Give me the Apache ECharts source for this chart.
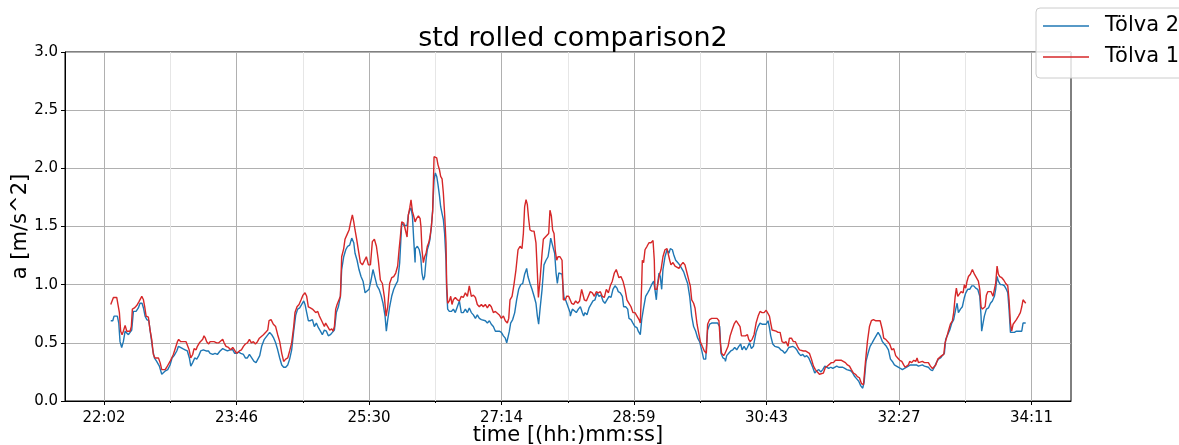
<!DOCTYPE html>
<html>
<head>
<meta charset="utf-8">
<script src="https://cdn.jsdelivr.net/npm/echarts@6/dist/echarts.min.js"></script>
<style>
html,body{margin:0;padding:0;background:#fff;}
#chart{width:1179px;height:445px;}
</style>
</head>
<body>
<div id="chart"></div>
<script>
// ---- data (time in seconds, value in m/s^2) ----
const tickValues = [1322, 1426.14, 1530.28, 1634.42, 1738.56, 1842.70, 1946.84, 2050.98];
const tickLabels = ['22:02','23:46','25:30','27:14','28:59','30:43','32:27','34:11'];
const minorTickValues = [1374.07, 1478.21, 1582.35, 1686.49, 1790.63, 1894.77, 1998.91];
const xRange = [1291.35, 2082.0];
const yTicks = [0, 0.5, 1.0, 1.5, 2.0, 2.5, 3.0];
const seriesNames = ['Tölva 2', 'Tölva 1'];

// Tölva 1 (red)
const timesT1 = [
1327.3,1329.4,1330.7,1332.0,1333.3,1334.1,1335.1,1336.2,1337.2,1338.6,
1339.9,1341.2,1342.5,1343.5,1344.3,1345.9,1347.7,1349.3,1350.3,1351.7,
1353.0,1354.0,1355.1,1356.9,1358.2,1359.5,1360.8,1362.1,1363.4,1364.8,
1366.1,1367.4,1368.7,1370.0,1371.3,1372.6,1373.9,1375.2,1376.5,1377.9,
1379.7,1380.7,1382.3,1384.4,1386.5,1387.5,1388.9,1390.2,1391.7,1392.8,
1394.4,1395.4,1397.0,1398.0,1399.6,1400.6,1401.7,1402.7,1404.3,1405.4,
1406.9,1408.5,1410.6,1412.2,1413.7,1415.3,1416.4,1417.9,1419.8,1421.6,
1423.2,1425.0,1426.3,1428.4,1430.0,1431.6,1433.1,1434.7,1436.3,1437.8,
1439.4,1441.0,1442.6,1444.1,
1445.4,1447.3,1449.1,1450.7,1451.7,1453.3,1455.1,1456.9,1458.5,1460.1,
1461.7,1463.2,1464.8,1466.4,1467.9,1469.5,1471.1,1472.1,1473.7,1475.3,
1476.9,1478.4,1480.0,1481.3,1482.6,1484.2,1485.8,1487.3,1488.4,1490.0,
1491.3,1492.6,1493.9,1495.2,1496.2,1497.8,1499.4,1501.0,1502.0,1503.1,
1504.1,1505.2,1506.7,1507.8,1508.8,1510.4,1511.4,1513.0,1514.6,1515.9,
1517.2,1518.3,1519.3,1520.6,1521.9,1523.5,1525.1,1526.6,1528.2,1529.8,
1531.4,1532.9,1534.5,1536.1,1537.6,1539.2,1540.8,1542.4,1543.7,1545.0,
1546.5,1548.1,1549.7,1551.3,1552.8,1553.9,1554.9,1556.0,1557.6,1559.1,
1560.2,1561.2,1562.3,1563.3,1564.4,1565.4,1566.5,
1567.7,1569.1,1570.4,1571.1,1571.9,1573.0,1574.0,1575.1,1576.1,1577.2,
1578.2,1579.3,1580.3,1581.4,1582.4,1583.5,1584.5,1585.6,1586.6,1587.7,
1588.7,1589.7,1590.8,1591.3,1592.1,1593.4,1594.5,1595.5,1596.6,1598.1,
1599.7,1601.3,1602.8,1604.4,1606.0,1607.6,1609.1,1610.7,1612.3,1613.9,
1615.4,1617.0,1618.6,1620.1,1621.7,1623.3,1624.9,1626.4,1628.0,1629.6,
1631.1,1632.7,1634.3,1635.9,1637.4,1639.0,1640.1,1641.1,1642.7,1644.2,
1645.8,1647.4,1649.0,1650.5,1651.6,1652.6,1653.7,1654.7,1655.8,1656.8,
1658.4,1660.0,1661.5,1662.6,1663.4,1664.7,1666.3,1667.3,1668.9,1670.4,
1671.5,1672.5,1673.6,1674.6,1675.7,1676.7,1677.8,1678.8,1680.4,1682.0,
1683.0,1684.6,1685.6,1687.2,1688.3,
1689.5,1691.1,1692.7,1694.3,1695.8,1697.4,1698.4,1699.5,1701.1,1702.6,
1704.2,1705.8,1707.4,1708.9,1710.5,1712.1,1713.6,1715.2,1716.8,1718.4,
1719.9,1721.5,1723.1,1724.6,1725.7,1726.7,1728.3,1729.9,1731.5,1733.0,
1734.6,1736.2,1737.7,1739.3,1740.9,1742.5,1743.5,1744.6,1745.1,1746.1,
1747.2,1748.8,1750.3,1751.9,1753.5,1754.5,1755.0,1756.6,1758.2,1759.8,
1761.3,1762.9,1764.5,1765.5,1766.6,1767.6,1769.2,1770.8,1772.3,1773.9,
1775.5,1777.1,1778.6,1780.2,1781.8,1782.8,1783.9,1785.4,1786.5,1788.1,
1789.1,1790.7,1792.2,1793.8,1795.4,1796.4,1798.0,1799.6,1801.7,1803.8,
1805.3,1806.4,1807.4,1809.0,1810.1,
1810.9,1812.5,1814.1,1815.6,1817.2,1818.8,1820.3,1821.9,1823.0,1824.5,
1826.1,1827.7,1828.7,1829.8,1831.4,1832.9,1834.5,1836.1,1837.6,1839.2,
1840.8,1842.4,1843.9,1845.0,1846.0,1847.1,1848.6,1850.2,1851.8,1853.4,
1854.9,1856.5,1858.1,1859.6,1860.7,1862.3,1863.8,1865.4,1867.0,1868.6,
1870.1,1871.7,1873.3,1874.8,1876.4,1878.0,1879.6,1881.1,1882.7,1884.3,
1885.8,1887.4,1889.0,1890.6,1892.1,1893.7,1895.3,1896.9,1898.4,1900.0,
1901.6,1903.1,1904.7,1906.3,1907.9,1909.4,1911.0,1912.6,1914.1,1915.7,
1917.3,1918.9,1920.4,1922.0,1923.6,1925.1,1926.7,1928.3,1929.9,1932.0,
1932.7,1933.8,1934.8,1936.4,1938.0,1939.5,1941.1,1942.7,1944.2,1945.8,
1947.4,1949.0,1950.5,1951.6,1952.6,1954.2,1955.2,1956.8,1958.4,1960.0,
1961.0,1962.1,1963.6,1965.2,1966.8,1968.3,1969.9,1971.5,1973.1,1974.6,
1975.7,1977.3,1978.8,1980.4,1982.0,1983.0,1984.1,1985.6,1987.2,1988.8,
1989.8,1990.9,1991.9,1993.0,1994.5,1995.6,1997.2,1998.2,1999.3,2000.3,
2001.4,2002.9,2004.5,2006.1,2007.6,2009.2,2010.3,2011.3,2012.4,2013.4,
2014.5,2015.5,2016.6,2017.6,2019.2,2020.7,2021.8,2022.8,2023.9,2024.9,
2026.0,2027.6,2029.1,2030.7,2032.3,2033.3,2034.4,2035.4,2036.5,2037.5,
2039.1,2040.7,2042.2,2043.3,2044.3,2045.4,2046.4
];
const valuesT1 = [
0.83,0.89,0.89,0.89,0.88,0.76,0.60,0.57,0.60,0.65,
0.60,0.59,0.60,0.64,0.79,0.80,0.82,0.85,0.86,0.90,
0.87,0.81,0.73,0.72,0.61,0.53,0.40,0.37,0.36,0.37,
0.33,0.27,0.26,0.27,0.29,0.29,0.34,0.37,0.40,0.41,
0.51,0.53,0.51,0.51,0.51,0.50,0.44,0.37,0.40,0.45,
0.44,0.47,0.50,0.51,0.53,0.56,0.54,0.51,0.49,0.51,
0.50,0.51,0.50,0.50,0.51,0.53,0.50,0.47,0.46,0.44,
0.46,0.43,0.41,0.43,0.44,0.47,0.49,0.50,0.53,0.50,
0.51,0.49,0.51,0.54,
0.54,0.57,0.59,0.61,0.69,0.70,0.66,0.64,0.57,0.51,
0.41,0.34,0.36,0.37,0.43,0.50,0.64,0.76,0.81,0.83,
0.87,0.91,0.93,0.90,0.81,0.80,0.79,0.79,0.76,0.77,
0.73,0.70,0.67,0.64,0.67,0.64,0.61,0.62,0.60,0.64,
0.79,0.83,0.84,0.90,1.24,1.31,1.39,1.43,1.47,1.54,
1.60,1.54,1.47,1.39,1.30,1.19,1.17,1.16,1.24,1.17,
1.17,1.37,1.39,1.33,1.21,1.04,1.01,0.89,0.73,0.81,
1.01,1.06,1.07,1.10,1.16,1.30,1.41,1.54,1.53,1.53,
1.41,1.60,1.66,1.73,1.63,1.59,1.54,
1.57,1.59,1.57,1.50,1.30,1.19,1.24,1.27,1.33,1.36,
1.41,1.50,1.63,2.10,2.11,2.09,2.03,1.99,1.93,1.91,
1.79,1.61,1.36,1.01,0.84,0.86,0.90,0.83,0.87,0.89,
0.87,0.86,0.90,0.89,0.93,0.90,0.99,0.90,0.91,0.89,
0.83,0.81,0.83,0.81,0.83,0.80,0.83,0.81,0.76,0.77,
0.76,0.74,0.71,0.73,0.69,0.67,0.71,0.87,0.90,1.00,
1.13,1.30,1.33,1.31,1.44,1.67,1.73,1.69,1.56,1.47,
1.46,1.46,1.36,1.10,0.89,1.04,1.27,1.39,1.41,1.40,
1.44,1.64,1.59,1.47,1.44,1.29,1.21,1.24,1.24,1.21,
0.87,0.87,0.90,0.90,0.89,
0.84,0.83,0.86,0.84,0.86,0.96,0.96,0.87,0.86,0.87,
0.94,0.93,0.90,0.94,0.93,0.94,0.90,0.89,0.96,0.93,
0.99,1.03,1.10,1.13,1.14,1.06,1.07,1.03,0.96,0.87,
0.84,0.81,0.76,0.76,0.73,0.70,0.67,1.01,1.21,1.19,
1.30,1.33,1.36,1.36,1.38,1.21,0.96,0.96,1.07,1.13,
1.24,1.30,1.31,1.30,1.21,1.17,1.19,1.16,1.17,1.14,
1.17,1.19,1.17,1.10,1.03,0.99,0.87,0.84,0.80,0.66,
0.60,0.51,0.47,0.43,0.41,0.66,0.70,0.71,0.71,0.71,
0.69,0.50,0.41,0.39,0.41,
0.43,0.47,0.56,0.61,0.66,0.69,0.68,0.64,0.56,0.56,
0.56,0.57,0.53,0.51,0.53,0.57,0.67,0.73,0.77,0.76,
0.76,0.78,0.79,0.73,0.67,0.61,0.60,0.60,0.59,0.59,
0.51,0.50,0.51,0.47,0.54,0.54,0.51,0.51,0.47,0.44,
0.43,0.43,0.43,0.42,0.41,0.36,0.30,0.27,0.25,0.23,
0.24,0.24,0.29,0.30,0.31,0.33,0.33,0.35,0.34,0.35,
0.35,0.34,0.33,0.31,0.30,0.27,0.24,0.23,0.21,0.20,
0.15,0.14,0.33,0.51,0.64,0.69,0.70,0.69,0.69,0.69,
0.69,0.61,0.54,0.53,0.51,0.49,0.44,0.45,0.39,0.37,
0.35,0.34,0.31,0.29,0.30,0.31,0.34,0.33,0.35,0.34,
0.37,0.33,0.34,0.34,0.33,0.34,0.33,0.30,0.28,0.29,
0.31,0.36,0.37,0.39,0.40,0.50,0.54,0.60,0.66,0.69,
0.76,0.89,0.97,0.90,0.90,0.94,0.93,1.00,0.97,1.03,
1.07,1.09,1.13,1.09,1.09,1.03,0.96,0.81,0.79,0.80,
0.81,0.91,0.94,0.93,0.94,0.90,0.96,1.01,1.16,1.09,
1.07,1.06,1.04,1.01,0.99,0.87,0.67,0.60,0.66,0.67,
0.70,0.73,0.76,0.81,0.87,0.86,0.84
];

// Tölva 2 (blue)
const timesT2 = [
1327.3,1328.9,1329.9,1331.2,1332.5,1333.6,1334.6,1335.9,1337.2,1338.6,
1339.9,1341.2,1342.5,1343.8,1345.1,1347.2,1349.0,1350.3,1351.9,1353.0,
1354.3,1355.6,1357.2,1358.7,1360.3,1361.6,1363.4,1365.5,1367.4,1368.7,
1370.3,1372.1,1373.9,1375.5,1377.1,1379.2,1380.5,1381.8,1383.9,1385.7,
1387.5,1389.1,1390.2,1391.7,1393.3,1394.9,1396.5,1398.0,1400.1,1402.2,
1404.1,1405.4,1407.5,1409.3,1411.1,1413.2,1415.3,1417.2,1419.0,1421.1,
1423.2,1424.7,1426.3,1427.9,1429.5,1431.6,1433.1,1434.7,1436.3,1438.1,
1439.9,1441.5,
1444.4,1445.9,1448.0,1450.1,1452.2,1453.8,1455.4,1456.9,1458.5,1460.1,
1461.7,1463.2,1464.8,1466.4,1467.9,1469.5,1471.1,1472.7,1474.2,1475.8,
1477.4,1479.0,1480.0,1481.3,1482.6,1484.2,1485.8,1487.3,1488.9,1490.5,
1492.1,1493.6,1495.2,1496.8,1498.3,1499.9,1501.5,1503.1,1504.6,1506.2,
1507.8,1508.8,1510.4,1512.0,1513.5,1515.1,1516.7,1518.3,1519.3,1520.9,
1522.4,1524.0,1525.6,1527.2,1528.7,1530.3,1531.9,1533.4,1535.0,1536.6,
1538.2,1539.7,1541.3,1542.9,1543.9,1545.0,1546.5,1548.1,1549.7,1551.3,
1552.8,1554.4,1556.0,1557.6,1559.1,1560.2,1561.2,1562.3,1563.3,1564.4,
1565.4,1566.5,
1566.7,1568.3,1569.8,1570.9,1571.9,1573.0,1574.0,1575.1,1576.1,1577.2,
1578.2,1579.3,1580.3,1581.4,1582.4,1583.5,1584.5,1585.6,1586.6,1587.7,
1588.7,1589.7,1590.8,1591.3,1592.1,1593.4,1595.0,1596.6,1598.1,1599.7,
1601.3,1602.8,1604.4,1606.0,1607.6,1609.1,1610.7,1612.3,1613.9,1615.4,
1617.0,1618.6,1620.1,1621.7,1623.3,1624.9,1626.4,1628.0,1629.6,1631.1,
1632.7,1634.3,1635.9,1637.4,1638.5,1639.5,1640.6,1641.6,1643.2,1644.8,
1646.3,1647.9,1649.5,1651.1,1652.6,1654.2,1655.2,1656.8,1658.4,1660.0,
1661.5,1662.6,1663.6,1664.7,1666.3,1667.8,1669.4,1671.0,1672.0,1673.1,
1674.1,1675.2,1676.2,1677.3,1678.3,1679.4,1680.9,1682.0,1683.5,1685.1,
1686.7,1688.3,
1688.5,1690.1,1691.6,1693.2,1694.8,1696.4,1697.9,1699.0,1700.0,1701.6,
1703.2,1704.7,1706.3,1707.9,1709.5,1711.0,1712.6,1714.2,1715.7,1717.3,
1718.9,1720.5,1722.0,1723.6,1725.2,1726.2,1727.8,1729.4,1730.4,1732.0,
1733.6,1734.6,1736.2,1737.7,1739.3,1740.9,1741.9,1743.5,1744.6,1746.1,
1747.7,1749.3,1750.8,1752.4,1754.0,1755.0,1756.1,1757.1,1758.2,1759.2,
1760.3,1761.3,1762.9,1764.5,1766.0,1767.1,1768.7,1769.7,1771.3,1772.9,
1774.4,1776.0,1777.6,1779.1,1780.7,1782.3,1783.9,1785.4,1787.0,1788.6,
1790.1,1791.7,1793.3,1794.9,1796.4,1798.0,1799.6,1802.2,1804.3,1805.9,
1806.9,1808.5,1810.1,
1810.4,1811.4,1813.0,1814.6,1816.2,1817.7,1819.3,1820.9,1822.4,1823.5,
1825.1,1826.6,1827.7,1829.3,1830.8,1832.4,1833.4,1834.5,1836.1,1837.6,
1839.2,1840.8,1842.4,1843.9,1845.0,1846.0,1847.6,1849.2,1850.7,1852.3,
1853.9,1855.5,1857.0,1858.6,1860.2,1861.7,1863.3,1864.9,1866.5,1868.0,
1869.6,1871.2,1872.7,1874.3,1875.9,1877.5,1879.0,1880.6,1882.2,1883.8,
1885.3,1886.9,1888.5,1890.0,1891.6,1893.2,1894.8,1896.3,1897.9,1899.5,
1901.0,1902.6,1904.2,1905.8,1907.3,1908.9,1910.5,1912.0,1913.6,1915.2,
1916.8,1918.3,1919.4,1920.9,1922.5,1924.1,1925.7,1927.2,1928.8,1930.4,
1932.0,
1932.2,1933.8,1935.3,1936.9,1938.5,1940.1,1941.6,1943.2,1944.8,1946.3,
1947.9,1949.5,1951.1,1952.6,1954.2,1955.8,1957.3,1958.9,1960.5,1962.1,
1963.6,1965.2,1966.8,1968.3,1969.9,1971.5,1973.1,1974.6,1976.2,1977.8,
1979.4,1980.9,1982.5,1983.5,1985.1,1986.7,1988.3,1989.8,1991.4,1992.5,
1993.5,1995.1,1996.6,1998.2,1999.3,2000.8,2002.4,2004.0,2005.6,2007.1,
2008.7,2010.3,2011.3,2011.8,2012.9,2013.9,2015.5,2017.1,2018.7,2020.2,
2021.8,2022.8,2023.9,2024.9,2026.5,2028.1,2029.7,2031.2,2032.3,2033.3,
2034.4,2035.9,2037.5,2039.1,2040.7,2042.2,2043.3,2044.3,2045.4,2046.4
];
const valuesT2 = [
0.69,0.69,0.73,0.73,0.73,0.67,0.51,0.46,0.51,0.60,
0.59,0.57,0.57,0.61,0.77,0.77,0.80,0.84,0.84,0.80,
0.73,0.70,0.69,0.57,0.44,0.37,0.34,0.30,0.23,0.24,
0.26,0.27,0.31,0.37,0.39,0.43,0.47,0.47,0.45,0.44,
0.43,0.37,0.30,0.33,0.37,0.36,0.39,0.43,0.44,0.43,
0.43,0.41,0.40,0.41,0.40,0.43,0.45,0.44,0.43,0.44,
0.44,0.41,0.41,0.42,0.41,0.40,0.37,0.37,0.40,0.37,
0.34,0.33,
0.39,0.47,0.53,0.56,0.59,0.57,0.54,0.50,0.44,0.37,
0.31,0.29,0.29,0.31,0.36,0.44,0.60,0.74,0.79,0.80,
0.83,0.86,0.83,0.76,0.69,0.69,0.70,0.64,0.67,0.63,
0.60,0.57,0.61,0.60,0.56,0.57,0.59,0.61,0.76,0.81,
0.90,1.13,1.24,1.30,1.33,1.34,1.40,1.36,1.27,1.21,
1.13,1.07,1.03,0.93,0.94,0.96,1.04,1.13,1.06,0.99,
0.96,0.91,0.84,0.73,0.60,0.70,0.81,0.90,0.96,1.00,
1.03,1.19,1.53,1.51,1.50,1.51,1.60,1.64,1.66,1.59,
1.39,1.19,
1.31,1.33,1.30,1.24,1.10,1.04,1.07,1.21,1.30,1.34,
1.39,1.50,1.64,1.90,1.96,1.93,1.86,1.77,1.67,1.61,
1.56,1.44,1.21,0.96,0.79,0.77,0.77,0.79,0.76,0.81,
0.86,0.76,0.76,0.79,0.76,0.80,0.76,0.74,0.71,0.74,
0.71,0.70,0.71,0.69,0.67,0.69,0.66,0.64,0.60,0.60,
0.60,0.59,0.56,0.54,0.50,0.51,0.60,0.67,0.70,0.76,
0.87,0.96,1.00,1.01,1.09,1.14,1.07,1.01,0.96,0.90,
0.84,0.73,0.66,0.79,0.96,1.17,1.21,1.24,1.31,1.40,
1.39,1.31,1.27,1.10,1.01,1.10,1.11,1.09,0.89,0.86,
0.81,0.76,
0.73,0.79,0.80,0.76,0.79,0.81,0.76,0.73,0.76,0.74,
0.80,0.81,0.86,0.87,0.93,0.90,0.91,0.86,0.84,0.87,
0.90,0.89,0.96,0.99,0.97,0.94,0.93,0.90,0.81,0.81,
0.79,0.71,0.70,0.67,0.64,0.63,0.60,0.57,0.70,0.80,
0.90,0.93,0.96,1.00,1.03,0.96,0.87,1.01,1.10,1.07,
0.96,1.13,1.24,1.30,1.27,1.31,1.30,1.26,1.21,1.19,
1.17,1.14,1.11,1.06,1.01,0.90,0.73,0.64,0.60,0.54,
0.51,0.44,0.36,0.36,0.61,0.66,0.67,0.67,0.67,0.64,
0.41,0.37,0.36,
0.34,0.39,0.41,0.43,0.44,0.46,0.44,0.47,0.49,0.44,
0.47,0.44,0.46,0.50,0.45,0.47,0.53,0.59,0.64,0.67,
0.66,0.66,0.66,0.69,0.63,0.56,0.49,0.47,0.46,0.46,
0.44,0.43,0.41,0.43,0.46,0.47,0.47,0.46,0.44,0.41,
0.39,0.40,0.38,0.39,0.37,0.33,0.29,0.24,0.26,0.27,
0.25,0.27,0.30,0.30,0.28,0.29,0.28,0.29,0.30,0.29,
0.30,0.29,0.28,0.27,0.27,0.26,0.24,0.21,0.19,0.17,
0.13,0.11,0.16,0.34,0.41,0.47,0.50,0.53,0.56,0.59,
0.56,
0.56,0.51,0.49,0.47,0.44,0.36,0.34,0.31,0.30,0.29,
0.28,0.27,0.28,0.29,0.30,0.31,0.30,0.31,0.31,0.30,
0.31,0.31,0.30,0.29,0.29,0.27,0.26,0.29,0.33,0.36,
0.37,0.39,0.41,0.53,0.57,0.61,0.67,0.70,0.79,0.84,
0.76,0.79,0.81,0.89,0.93,0.96,0.96,0.99,0.99,0.97,
0.96,0.90,0.73,0.60,0.67,0.73,0.79,0.80,0.84,0.86,
0.90,0.96,1.07,1.03,1.00,1.00,0.99,0.96,0.93,0.79,
0.59,0.59,0.59,0.60,0.60,0.61,0.60,0.67,0.66,0.67
];

// ---- chart ----
function zip(ts, vs) { return ts.map((t, i) => [t, vs[i]]); }
function labelFor(v) {
  let best = 0, bd = Infinity;
  tickValues.forEach((tv, i) => { const d = Math.abs(tv - v); if (d < bd) { bd = d; best = i; } });
  return tickLabels[best];
}

const FONT = '"DejaVu Sans", sans-serif';
const chart = echarts.init(document.getElementById('chart'), null, { renderer: 'canvas' });

const option = {
  animation: false,
  backgroundColor: '#ffffff',
  textStyle: { fontFamily: FONT },
  title: {
    text: 'std rolled comparison2',
    left: 568,
    top: 20,
    textAlign: 'center',
    textStyle: { fontFamily: FONT, fontSize: 27, fontWeight: 'normal', color: '#000' }
  },
  legend: {
    orient: 'vertical',
    left: 1036,
    top: 8,
    padding: [6, 10, 9, 7],
    itemGap: 7,
    itemWidth: 46,
    itemHeight: 1.6,
    icon: 'rect',
    backgroundColor: 'rgba(255,255,255,0.8)',
    borderColor: '#cccccc',
    borderWidth: 1,
    borderRadius: 4,
    data: seriesNames,
    textStyle: { fontFamily: FONT, fontSize: 21, color: '#000', lineHeight: 24, padding: [0, 0, 0, 11] }
  },
  grid: {
    left: 65, right: 108, top: 52, bottom: 44,
    containLabel: false,
    outerBoundsMode: 'none',
    show: true, borderColor: '#000', borderWidth: 1, backgroundColor: 'transparent'
  },
  xAxis: [
    {
      type: 'value',
      min: xRange[0], max: xRange[1],
      name: 'time [(hh:)mm:ss]',
      nameLocation: 'middle',
      nameGap: 24,
      nameMoveOverlap: false,
      nameTextStyle: { fontFamily: FONT, fontSize: 21, color: '#000', verticalAlign: 'top' },
      axisLine: { show: true, lineStyle: { color: '#000', width: 1 } },
      axisTick: { show: true, customValues: tickValues, length: 4, lineStyle: { color: '#000', width: 1 } },
      axisLabel: { show: true, customValues: tickValues, formatter: labelFor, margin: 10,
                   fontFamily: FONT, fontSize: 15, color: '#000' },
      splitLine: { show: true, lineStyle: { color: '#b0b0b0', width: 1 } }
    },
    {
      type: 'value',
      min: xRange[0], max: xRange[1],
      position: 'bottom',
      axisLine: { show: false },
      axisTick: { show: true, customValues: minorTickValues, length: 2, lineStyle: { color: '#000', width: 1 } },
      axisLabel: { show: false, customValues: minorTickValues },
      splitLine: { show: true, lineStyle: { color: '#e6e6e6', width: 1 } }
    }
  ],
  yAxis: {
    type: 'value',
    min: yTicks[0], max: yTicks[yTicks.length - 1], interval: 0.5,
    name: 'a [m/s^2]',
    nameLocation: 'middle',
    nameGap: 34,
    nameMoveOverlap: false,
    nameTextStyle: { fontFamily: FONT, fontSize: 21, color: '#000' },
    axisLine: { show: true, lineStyle: { color: '#000', width: 1 } },
    axisTick: { show: true, length: 4, lineStyle: { color: '#000', width: 1 } },
    axisLabel: { margin: 7, fontFamily: FONT, fontSize: 15, color: '#000',
                 formatter: v => v.toFixed(1) },
    splitLine: { show: true, lineStyle: { color: '#b0b0b0', width: 1 } }
  },
  series: [
    {
      name: seriesNames[0], type: 'line', xAxisIndex: 0,
      data: zip(timesT2, valuesT2),
      showSymbol: false, symbol: 'none',
      lineStyle: { color: '#1f77b4', width: 1.4 },
      itemStyle: { color: '#1f77b4' },
      z: 2
    },
    {
      name: seriesNames[1], type: 'line', xAxisIndex: 0,
      data: zip(timesT1, valuesT1),
      showSymbol: false, symbol: 'none',
      lineStyle: { color: '#d62728', width: 1.4 },
      itemStyle: { color: '#d62728' },
      z: 3
    }
  ]
};
chart.setOption(option);
</script>
</body>
</html>
